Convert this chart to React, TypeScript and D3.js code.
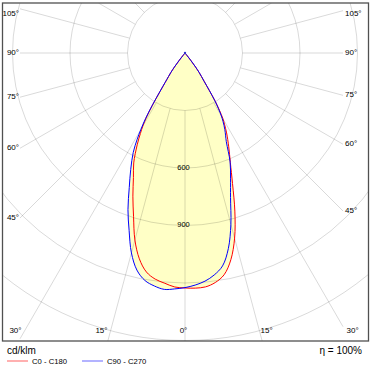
import React from 'react';
import * as d3 from 'd3';

// Polar angles (degrees from nadir) at which intensities were read; beyond 40° the intensity is 0.
const GAMMA = [0, 2.5, 5, 7.5, 10, 12.5, 15, 17.5, 20, 22.5, 25, 27.5, 29, 30, 31, 32, 33, 34, 35, 36, 37, 38, 39, 40];
// C0 - C180 plane (red): right half (C0) and left half (C180), cd/klm
const C0 = [1226, 1228, 1225, 1208, 1175, 1105, 1000, 865, 725, 618, 540, 470, 425, 395, 350, 300, 235, 182, 150, 125, 92, 52, 15, 0];
const C180 = [1226, 1222, 1206, 1190, 1160, 1100, 1010, 893, 795, 703, 633, 540, 480, 440, 390, 318, 240, 185, 150, 125, 92, 52, 15, 0];
// C90 - C270 plane (blue): right half (C90) and left half (C270), cd/klm
const C90 = [1224, 1212, 1195, 1168, 1128, 1045, 925, 790, 695, 615, 510, 450, 410, 380, 340, 295, 232, 180, 150, 125, 92, 52, 15, 0];
const C270 = [1224, 1232, 1238, 1226, 1205, 1160, 1080, 970, 870, 760, 670, 585, 515, 460, 400, 322, 242, 185, 150, 125, 92, 52, 15, 0];

const RING_VALUES = [300, 600, 900, 1200, 1500, 1800];
const RING_LABELS = [600, 900];
const RAY_ANGLES = d3.range(0, 181, 15);
const ANGLE_LABELS = [0, 15, 30, 45, 60, 75, 90, 105];
const UNIT = 'cd/klm';
const ETA = 'η = 100%';
const LEGEND = [
  { name: 'C0 - C180', color: '#ff0000', legendColor: '#ff9c9c' },
  { name: 'C90 - C270', color: '#0000ff', legendColor: '#a0a0ff' },
];

const W = 371;
const H = 370;
const CX = 185;
const CY = 53;
const FRAME = { x0: 2.5, y0: 3, x1: 368.5, y1: 341 };
const RAY_X0 = 20;
const RAY_X1 = 343;
const FONT = '"Liberation Sans", Arial, sans-serif';

const rScale = d3.scaleLinear().domain([0, 300]).range([0, 57.5]);
const rad = (deg: number) => (deg * Math.PI) / 180;

function curvePoints(right: number[], left: number[]): [number, number][] {
  const pts: [number, number][] = [];
  for (let i = GAMMA.length - 1; i >= 0; i--) {
    const r = rScale(left[i]);
    pts.push([CX - r * Math.sin(rad(GAMMA[i])), CY + r * Math.cos(rad(GAMMA[i]))]);
  }
  for (let i = 1; i < GAMMA.length; i++) {
    const r = rScale(right[i]);
    pts.push([CX + r * Math.sin(rad(GAMMA[i])), CY + r * Math.cos(rad(GAMMA[i]))]);
  }
  return pts;
}

const lineGen = d3.line<[number, number]>().curve(d3.curveCatmullRom.alpha(0.5));

export default function App() {
  const redPts = curvePoints(C0, C180);
  const bluePts = curvePoints(C90, C270);
  const redD = lineGen(redPts) || '';
  const blueD = lineGen(bluePts) || '';

  const r0 = rScale(RING_VALUES[0]);
  const rays: { x1: number; y1: number; x2: number; y2: number }[] = [];
  RAY_ANGLES.forEach((a) => {
    const sides = a === 0 || a === 180 ? [1] : [-1, 1];
    sides.forEach((s) => {
      const sx = s * Math.sin(rad(a));
      const sy = Math.cos(rad(a));
      let t = Infinity;
      if (sx < -1e-9) t = Math.min(t, (CX - RAY_X0) / -sx);
      if (sx > 1e-9) t = Math.min(t, (RAY_X1 - CX) / sx);
      if (sy > 1e-9) t = Math.min(t, (FRAME.y1 - CY) / sy);
      if (sy < -1e-9) t = Math.min(t, (CY - FRAME.y0) / -sy);
      if (t > r0) rays.push({ x1: CX + r0 * sx, y1: CY + r0 * sy, x2: CX + t * sx, y2: CY + t * sy });
    });
  });

  const labels: { x: number; y: number; anchor: string; text: string }[] = [];
  ANGLE_LABELS.forEach((a) => {
    const sides = a === 0 ? [0] : [-1, 1];
    sides.forEach((s) => {
      const sin = Math.sin(rad(a));
      const cos = Math.cos(rad(a));
      if (s !== 0) {
        const dx = s < 0 ? CX - RAY_X0 : RAY_X1 - CX;
        const y = CY + (dx / sin) * cos;
        if (y <= 320) {
          labels.push({
            x: s < 0 ? RAY_X0 - 1 : RAY_X1 + 2,
            y: Math.max(y, 14),
            anchor: s < 0 ? 'end' : 'start',
            text: `${a}°`,
          });
          return;
        }
      }
      const yb = 331;
      const xb = CX + s * (yb - CY) * Math.tan(rad(a));
      labels.push({
        x: s < 0 ? xb - 3 : s > 0 ? xb + 1 : xb - 1.5,
        y: yb,
        anchor: s < 0 ? 'end' : s > 0 ? 'start' : 'middle',
        text: `${a}°`,
      });
    });
  });

  return (
    <svg width={W} height={H} style={{ position: 'absolute', left: 0, top: 0, background: '#fff' }}>
      <defs>
        <clipPath id="frameClip">
          <rect x={FRAME.x0} y={FRAME.y0} width={FRAME.x1 - FRAME.x0} height={FRAME.y1 - FRAME.y0} />
        </clipPath>
      </defs>
      <rect x={0} y={0} width={W} height={H} fill="#fff" />
      <g clipPath="url(#frameClip)">
        <path d={redD + blueD} fill="#ffffc6" stroke="none" fillRule="nonzero" />
        <g stroke="#000" strokeOpacity={0.15} fill="none" strokeWidth={1}>
          {RING_VALUES.map((v) => (
            <circle key={v} cx={CX} cy={CY} r={rScale(v)} />
          ))}
          {rays.map((l, i) => (
            <line key={i} x1={l.x1} y1={l.y1} x2={l.x2} y2={l.y2} />
          ))}
        </g>
        {RING_LABELS.map((v) => (
          <text
            key={v}
            x={CX - 1.5}
            y={CY + rScale(v)}
            fontFamily={FONT}
            fontSize={7.5}
            textAnchor="middle"
            dominantBaseline="middle"
            fill="#000"
          >
            {v}
          </text>
        ))}
        <path d={redD} fill="none" stroke={LEGEND[0].color} strokeWidth={1} />
        <path d={blueD} fill="none" stroke={LEGEND[1].color} strokeWidth={1} />
        <circle cx={CX} cy={CY} r={1.2} fill="#3030d0" />
      </g>
      <rect
        x={FRAME.x0}
        y={FRAME.y0}
        width={FRAME.x1 - FRAME.x0}
        height={FRAME.y1 - FRAME.y0}
        fill="none"
        stroke="#505050"
        strokeWidth={1.3}
      />
      {labels.map((l, i) => (
        <text
          key={i}
          x={l.x}
          y={l.y}
          textAnchor={l.anchor}
          dominantBaseline="middle"
          fontFamily={FONT}
          fontSize={8}
          fill="#000"
        >
          {l.text}
        </text>
      ))}
      <text x={7} y={354} fontFamily={FONT} fontSize={10} fill="#000">
        {UNIT}
      </text>
      <text x={362} y={354} fontFamily={FONT} fontSize={10} fill="#000" textAnchor="end">
        {ETA}
      </text>
      {LEGEND.map((l, i) => {
        const x0 = 7 + i * 75;
        return (
          <g key={l.name}>
            <line x1={x0} x2={x0 + 21} y1={361} y2={361} stroke={l.legendColor} strokeWidth={1.6} />
            <text x={x0 + 25} y={364} fontFamily={FONT} fontSize={7.7} fill="#000">
              {l.name}
            </text>
          </g>
        );
      })}
    </svg>
  );
}
